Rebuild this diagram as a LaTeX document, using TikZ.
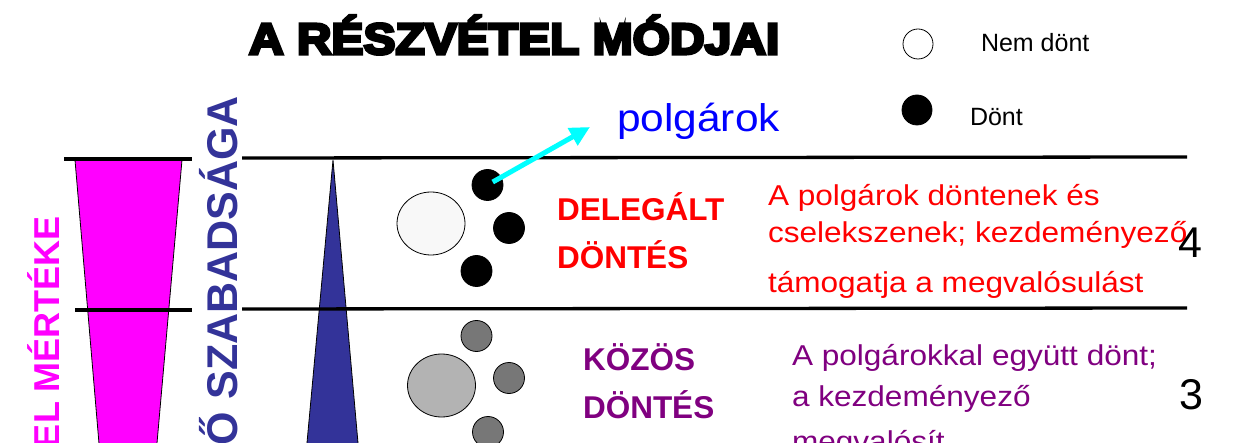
\documentclass[tikz,border=0pt]{standalone}
\usepackage{fontspec}
\setmainfont{Liberation Sans}
\newfontfamily\widefont[FakeStretch=1.1]{Liberation Sans}
\newfontfamily\titlefont[FakeStretch=1.1,FakeBold=7]{Liberation Sans Bold}
\newfontfamily\boldsans{Liberation Sans Bold}
\usetikzlibrary{shapes.geometric,arrows.meta}
\definecolor{magentaA}{HTML}{FF00FF}
\definecolor{navyA}{HTML}{333399}
\definecolor{redA}{HTML}{FF0000}
\definecolor{purpleA}{HTML}{800080}
\definecolor{blueA}{HTML}{0000FF}
\definecolor{cyanA}{HTML}{00FFFF}
\definecolor{paleA}{HTML}{F8F8F8}
\definecolor{greyA}{HTML}{B3B3B3}
\definecolor{greyB}{HTML}{777777}
\tikzset{
  lbl/.style={inner sep=0pt, outer sep=0pt, anchor=base west},
  dot/.style={circle, draw=black, line width=0.8pt, minimum size=31pt, inner sep=0pt},
  bigdot/.style={ellipse, draw=black, line width=0.8pt, minimum width=68pt, minimum height=63pt, inner sep=0pt},
  rule/.style={draw=black, line width=3.3pt},
  wedge/.style={draw=black, line width=0.8pt},
  pointer/.style={draw=cyanA, line width=5pt, -{Triangle[length=20pt,width=19pt]}},
}
\begin{document}
\begin{tikzpicture}[x=1pt,y=-1pt]
\useasboundingbox (0,0) rectangle (1233,443);
\clip (0,0) rectangle (1233,443);
\fill[white] (0,0) rectangle (1233,443);

% wedges
\filldraw[wedge, fill=magentaA] (75,160) -- (182,160) -- (155.5,460) -- (100.4,460) -- cycle;
\filldraw[wedge, fill=navyA] (333,160) -- (359.5,460) -- (305.4,460) -- cycle;

% rules
\coordinate (l1a) at (64,159);
\coordinate (l1b) at (192,159);
\coordinate (r1a) at (242,158);
\coordinate (r1b) at (1187,157);
\coordinate (l2a) at (75,310);
\coordinate (l2b) at (192,310);
\coordinate (r2a) at (242,309);
\coordinate (r2b) at (1187,308);
\draw[rule] (l1a) -- (l1b);
\draw[rule] (r1a) -- (r1b);
\draw[rule] (l2a) -- (l2b);
\draw[rule] (r2a) -- (r2b);

% vertical texts
\node[lbl, rotate=90, text=magentaA, font=\boldsans\fontsize{36}{36}\selectfont] (vt1) at (59,448) {EL MÉRTÉKE};
\node[lbl, rotate=90, text=navyA, font=\boldsans\fontsize{43}{43}\selectfont] (vt2) at (237,445) {Ő SZABADSÁGA};

% title
\node[lbl, font=\titlefont\fontsize{43.6}{43.6}\selectfont] (title) at (249,54) {A RÉSZVÉTEL MÓDJAI};

% legend
\node[dot, fill=white, minimum size=30pt] (lg1) at (918,44) {};
\node[dot, fill=black, minimum size=30pt] (lg2) at (917,110) {};
\node[lbl, font=\fontsize{25}{25}\selectfont] (lgt1) at (981,52) {Nem dönt};
\node[lbl, font=\fontsize{25}{25}\selectfont] (lgt2) at (970,126) {Dönt};

% row 1 circles
\node[bigdot, fill=paleA] (big1) at (431,223.5) {};
\node[dot, fill=black] (c1) at (487.5,185) {};
\node[dot, fill=black] (c2) at (509,228) {};
\node[dot, fill=black] (c3) at (476.5,271) {};

% row 2 circles
\node[bigdot, fill=greyA] (big2) at (441.5,385.5) {};
\node[dot, fill=greyB] (g1) at (476.5,336) {};
\node[dot, fill=greyB] (g2) at (509,378) {};
\node[dot, fill=greyB] (g3) at (488,432) {};

% pointer
\coordinate (tip) at (590,127);
\node[lbl, text=blueA, font=\widefont\fontsize{38.6}{38.6}\selectfont] (polg) at (617,132) {polgárok};
\draw[pointer, shorten <=6pt] (c1.center) -- (tip);

% row 1 texts
\node[lbl, text=redA, font=\boldsans\fontsize{31.5}{31.5}\selectfont] (del1) at (557,221) {DELEGÁLT};
\node[lbl, text=redA, font=\boldsans\fontsize{31.5}{31.5}\selectfont] (del2) at (557,269) {DÖNTÉS};
\node[lbl, text=redA, font=\widefont\fontsize{28.7}{28.7}\selectfont] (rd1) at (768,206) {A polgárok döntenek és};
\node[lbl, text=redA, font=\widefont\fontsize{28.7}{28.7}\selectfont] (rd2) at (768,243) {cselekszenek; kezdeményező};
\node[lbl, text=redA, font=\widefont\fontsize{28.7}{28.7}\selectfont] (rd3) at (768,293) {támogatja a megvalósulást};

% row 2 texts
\node[lbl, text=purpleA, font=\boldsans\fontsize{31.5}{31.5}\selectfont] (koz1) at (583,370) {KÖZÖS};
\node[lbl, text=purpleA, font=\boldsans\fontsize{31.5}{31.5}\selectfont] (koz2) at (583,418) {DÖNTÉS};
\node[lbl, text=purpleA, font=\widefont\fontsize{28.7}{28.7}\selectfont] (pd1) at (792,365) {A polgárokkal együtt dönt;};
\node[lbl, text=purpleA, font=\widefont\fontsize{28.7}{28.7}\selectfont] (pd2) at (792,406) {a kezdeményező};
\node[lbl, text=purpleA, font=\widefont\fontsize{28.7}{28.7}\selectfont] (pd3) at (792,451) {megvalósít};

% numbers
\node[lbl, font=\fontsize{43}{43}\selectfont] (n4) at (1178,258) {4};
\node[lbl, font=\fontsize{43}{43}\selectfont] (n3) at (1179,409) {3};
\end{tikzpicture}
\end{document}
